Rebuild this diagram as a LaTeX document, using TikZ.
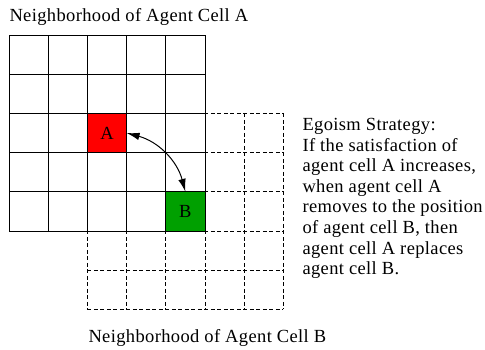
\documentclass[tikz,border=0pt]{standalone}
\usepackage{fontspec}
\setmainfont{Liberation Serif}[LetterSpace=2]
\usetikzlibrary{arrows.meta}
\definecolor{cellred}{RGB}{255,0,0}
\definecolor{cellgreen}{RGB}{0,160,0}
\begin{document}
\begin{tikzpicture}[x=1pt,y=-1pt,
  txt/.style={font=\fontsize{18.5}{20.6}\selectfont, inner sep=0pt, outer sep=0pt},
  solidgrid/.style={line width=1pt},
  dashgrid/.style={line width=1pt, dash pattern=on 4pt off 2.5pt},
  cellbox/.style={draw, line width=1pt, minimum size=39.2pt, inner sep=0pt, outer sep=0pt, anchor=north west, font=\fontsize{18.5}{20.6}\selectfont},
  link/.style={line width=1pt, {Latex[length=13pt,width=7.5pt]}-{Latex[length=13pt,width=7.5pt]}}]
\useasboundingbox (0,0) rectangle (485,349);
\node[cellbox, fill=cellred] (A) at (87.4,113.4) {A};
\node[cellbox, fill=cellgreen] (B) at (165.8,191.8) {B};
\foreach \i in {0,...,5} {
  \draw[dashgrid] ({87.4+39.2*\i},113.4) -- ({87.4+39.2*\i},309.4);
  \draw[dashgrid] (87.4,{113.4+39.2*\i}) -- (283.4,{113.4+39.2*\i});
}
\foreach \i in {0,...,5} {
  \draw[solidgrid] ({9+39.2*\i},35) -- ({9+39.2*\i},231);
  \draw[solidgrid] (9,{35+39.2*\i}) -- (205,{35+39.2*\i});
}
\draw[link] (A.east) to[bend left=30] (B.north);
\node[txt, anchor=base west] (tA) at (9.5,21.7) {Neighborhood of Agent Cell A};
\node[txt, anchor=base west] (tB) at (88.5,342.7) {Neighborhood of Agent Cell B};
\node[txt, anchor=base west, align=left] (strategy) at (302.5,274.7) {Egoism Strategy:\\If the satisfaction of\\agent cell A increases,\\when agent cell A\\removes to the position\\of agent cell B, then\\agent cell A replaces\\agent cell B.};
\end{tikzpicture}
\end{document}
